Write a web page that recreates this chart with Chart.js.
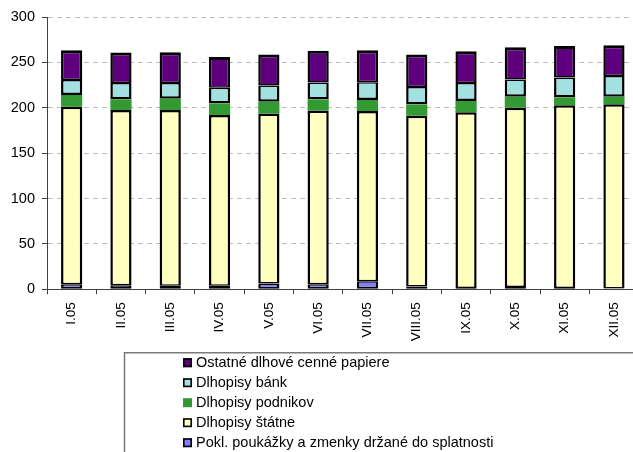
<!DOCTYPE html>
<html>
<head>
<meta charset="utf-8">
<script src="https://cdn.jsdelivr.net/npm/chart.js@4.4.1/dist/chart.umd.min.js"></script>
<style>
  html, body { margin: 0; padding: 0; background: #ffffff; overflow: hidden; }
  #wrap { width: 640px; height: 452px; }
</style>
</head>
<body>
<div id="wrap"><canvas id="c" width="640" height="452"></canvas></div>
<script>
// Months of 2005
const months = ['I.05', 'II.05', 'III.05', 'IV.05', 'V.05', 'VI.05', 'VII.05', 'VIII.05', 'IX.05', 'X.05', 'XI.05', 'XII.05'];

// Stacked components, bottom to top
const poklPoukazky = [5.5, 4.5, 4, 4, 6.5, 5.5, 9, 3, 1.5, 2.5, 1.5, 1];
const dlhopisyStatne = [195.5, 193, 193.5, 188, 187.3, 191.5, 187.4, 188.2, 193.5, 197.5, 201.3, 202.8];
const dlhopisyPodnikov = [13, 12, 12.3, 12.8, 12.8, 12.2, 12.1, 12.3, 12.4, 12, 8.6, 8.3];
const dlhopisyBank = [16.5, 17.8, 17.5, 17.2, 18, 18.5, 19.5, 19.5, 20, 19.1, 21.9, 22.9];
const ostatneCP = [33, 33.5, 34, 33.8, 34, 35, 35.5, 35.7, 34.8, 35.5, 34.7, 33.8];

const yTicks = [0, 50, 100, 150, 200, 250, 300];

const FONT = 'Arial, "Liberation Sans", sans-serif';

// Outline thickness per side: shared edges of two outlined segments split the line,
// edges next to the unoutlined segment (or the open top) carry it in full
function series(label, data, color, border) {
  return {
    label: label,
    data: data,
    backgroundColor: color,
    borderColor: '#000000',
    borderWidth: border,
    borderSkipped: false,
    inflateAmount: 0,
    barPercentage: 0.43,
    categoryPercentage: 1.0
  };
}

// Boxed legend listed top-down (reverse of stacking order)
const boxLegend = {
  id: 'boxLegend',
  afterDraw(chart) {
    const ctx = chart.ctx;
    ctx.save();
    ctx.strokeStyle = '#7a7a7a';
    ctx.lineWidth = 1.5;
    ctx.beginPath();
    ctx.moveTo(124.5, 460);
    ctx.lineTo(124.5, 352.7);
    ctx.lineTo(700, 352.7);
    ctx.stroke();

    const items = chart.data.datasets.slice().reverse();
    ctx.font = '14.5px ' + FONT;
    ctx.textBaseline = 'middle';
    ctx.textAlign = 'left';
    items.forEach((ds, i) => {
      const cy = 362.7 + i * 20;
      const x = 183, s = 9;
      ctx.fillStyle = ds.backgroundColor;
      ctx.fillRect(x, cy - s / 2, s, s);
      if (ds.borderWidth !== 0) {
        ctx.strokeStyle = '#000000';
        ctx.lineWidth = 1.6;
        ctx.strokeRect(x + 0.8, cy - s / 2 + 0.8, s - 1.6, s - 1.6);
      }
      ctx.fillStyle = '#000000';
      ctx.fillText(ds.label, 196, cy + 0.5);
    });
    ctx.restore();
  }
};

new Chart(document.getElementById('c'), {
  type: 'bar',
  data: {
    labels: months,
    datasets: [
      series('Pokl. poukážky a zmenky držané do splatnosti', poklPoukazky, '#8080ff', { top: 1.5, bottom: 2, left: 2.5, right: 2.5 }),
      series('Dlhopisy štátne', dlhopisyStatne, '#ffffc0', { top: 2.5, bottom: 1.5, left: 2.5, right: 2.5 }),
      series('Dlhopisy podnikov', dlhopisyPodnikov, '#339933', 0),
      series('Dlhopisy bánk', dlhopisyBank, '#a3e0e0', { top: 1.5, bottom: 2.5, left: 2.5, right: 2.5 }),
      series('Ostatné dlhové cenné papiere', ostatneCP, '#5e007e', { top: 3, bottom: 1.5, left: 2.5, right: 2.5 })
    ]
  },
  options: {
    responsive: false,
    animation: false,
    devicePixelRatio: 1,
    layout: { padding: { top: 17, right: 1.4, bottom: 0, left: 0 } },
    plugins: {
      legend: { display: false },
      tooltip: { enabled: false }
    },
    scales: {
      x: {
        stacked: true,
        offset: true,
        border: { display: true, color: '#404040', width: 1 },
        grid: {
          display: true,
          offset: true,
          drawOnChartArea: false,
          drawTicks: true,
          tickLength: 5,
          color: '#404040'
        },
        ticks: {
          autoSkip: false,
          minRotation: 90,
          maxRotation: 90,
          padding: 8,
          color: '#000000',
          font: { family: FONT, size: 13.5 }
        },
        afterFit(scale) { scale.height = 162.7; }
      },
      y: {
        stacked: true,
        min: 0,
        max: 300,
        afterBuildTicks(scale) { scale.ticks = yTicks.map(v => ({ value: v })); },
        border: { display: true, color: '#404040', width: 1, dash: [5, 4] },
        grid: {
          color: '#bdbdbd',
          lineWidth: 1,
          drawTicks: true,
          tickLength: 5,
          tickColor: '#404040',
          tickBorderDash: []
        },
        ticks: {
          padding: 7,
          color: '#000000',
          font: { family: FONT, size: 14.5 }
        },
        afterFit(scale) { scale.width = 47; }
      }
    }
  },
  plugins: [boxLegend]
});
</script>
</body>
</html>
